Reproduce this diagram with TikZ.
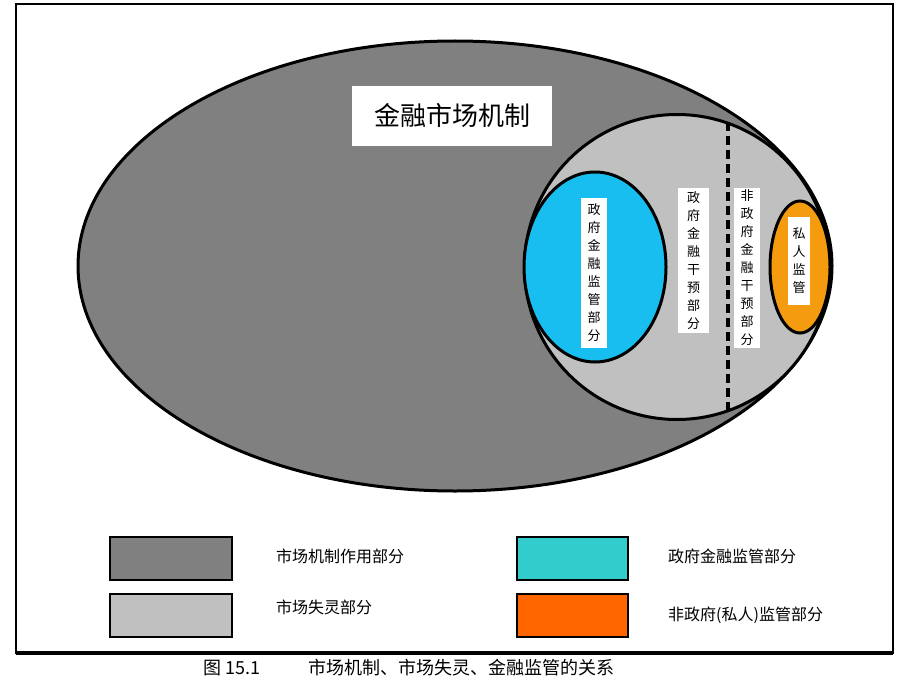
\documentclass[tikz,border=0pt]{standalone}
\usepackage{fontspec}
\newfontfamily\cjk{Noto Sans CJK SC}
\usetikzlibrary{shapes.geometric}
\definecolor{darkg}{RGB}{128,128,128}
\definecolor{lightg}{RGB}{192,192,192}
\definecolor{skyc}{RGB}{25,190,240}
\definecolor{orng}{RGB}{245,155,15}
\definecolor{legc}{RGB}{51,204,204}
\definecolor{lego}{RGB}{255,102,0}
\tikzset{
  region/.style={ellipse, draw=black, line width=3pt, inner sep=0pt},
  vbox/.style={fill=white, inner sep=0pt, align=center, font=\cjk\fontsize{13}{18}\selectfont},
  legbox/.style={draw=black, line width=1.5pt, minimum width=122pt, minimum height=43pt, inner sep=0pt},
  legtext/.style={anchor=west, font=\cjk\fontsize{16}{18}\selectfont, inner sep=0pt},
}
\begin{document}
\begin{tikzpicture}[x=1pt,y=-1pt]
\useasboundingbox (0,0) rectangle (920,690);
\fill[white] (0,0) rectangle (920,690);
\draw[line width=2.5pt] (16,4) rectangle (893,653);
\draw[line width=3.5pt] (16,653) -- (893,653);
% regions
\node[region, fill=darkg, minimum width=754pt, minimum height=450pt] (market) at (455,266) {};
\node[fill=white, inner sep=0pt, minimum width=200pt, minimum height=60pt, text=black, font=\cjk\fontsize{26}{28}\selectfont] (title) at (452,116) {金融市场机制};
\node[region, fill=lightg, minimum width=305pt, minimum height=305pt] (fail) at (677,267) {};
\coordinate (dtop) at (728,122);
\coordinate (dbot) at (728,410);
\draw[line width=4pt, dash pattern=on 9pt off 5pt] (dtop) -- (dbot);
\node[region, fill=skyc, minimum width=142pt, minimum height=190pt] (gov) at (595,267) {};
\node[region, fill=orng, minimum width=60pt, minimum height=132pt] (priv) at (800,267) {};
% vertical labels
\node[vbox, minimum width=26pt, minimum height=150pt] (govtext) at (594,273) {政\\府\\金\\融\\监\\管\\部\\分};
\node[vbox, minimum width=31pt, minimum height=145pt] (midtext) at (693.5,260.5) {政\\府\\金\\融\\干\\预\\部\\分};
\node[vbox, minimum width=26pt, minimum height=160pt] (rtext) at (747,268) {非\\政\\府\\金\\融\\干\\预\\部\\分};
\node[vbox, minimum width=22pt, minimum height=88pt] (ptext) at (799,261) {私\\人\\监\\管};
% legend
\node[legbox, fill=darkg] (l1) at (171,558.5) {};
\node[legbox, fill=lightg] (l2) at (171,615.5) {};
\node[legbox, fill=legc, minimum width=111pt] (l3) at (572.5,558.5) {};
\node[legbox, fill=lego, minimum width=111pt] (l4) at (572.5,615.5) {};
\node[legtext] (t1) at (276,556) {市场机制作用部分};
\node[legtext] (t2) at (276,607) {市场失灵部分};
\node[legtext] (t3) at (668,556) {政府金融监管部分};
\node[legtext] (t4) at (668,615) {非政府(私人)监管部分};
% caption
\node[anchor=west, inner sep=0pt, font=\cjk\fontsize{18}{20}\selectfont] (capnum) at (203,668) {图 15.1};
\node[anchor=west, inner sep=0pt, font=\cjk\fontsize{18}{20}\selectfont] (captext) at (308,668) {市场机制、市场失灵、金融监管的关系};
\end{tikzpicture}
\end{document}
